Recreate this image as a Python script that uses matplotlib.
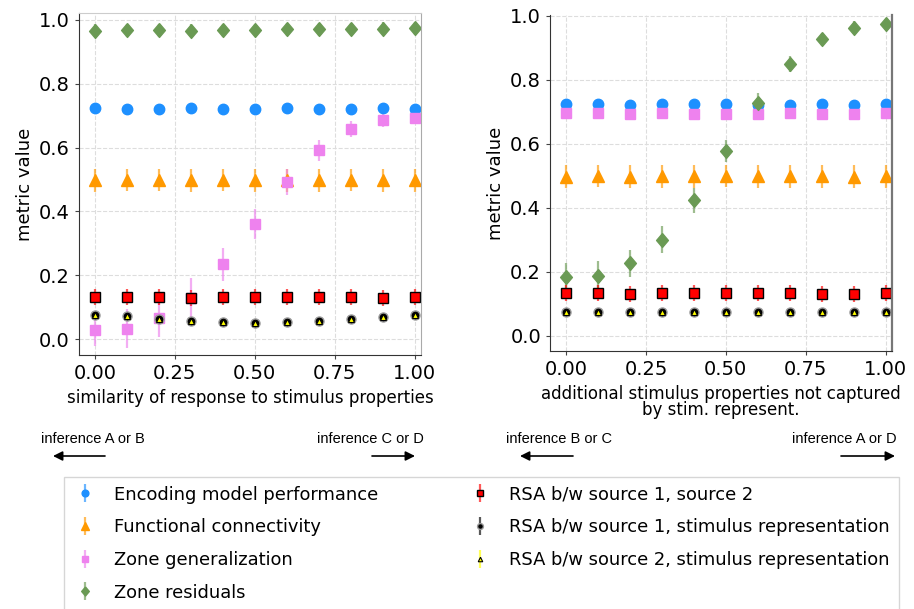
import numpy as np
import matplotlib
matplotlib.use("Agg")
import matplotlib.pyplot as plt
from matplotlib.colors import to_rgba
from matplotlib.patches import FancyArrowPatch

plt.rcParams['font.family'] = ['DejaVu Sans']

x = np.round(np.arange(0, 1.01, 0.1), 1)

# panel A: similarity of response to stimulus properties
enc_a = [0.723, 0.722, 0.722, 0.723, 0.722, 0.722, 0.723, 0.722, 0.722, 0.723, 0.722]
fc_a = [0.497, 0.498, 0.498, 0.497, 0.498, 0.497, 0.497, 0.497, 0.498, 0.497, 0.497]
zgen_a = [0.029, 0.033, 0.066, 0.13, 0.234, 0.362, 0.492, 0.591, 0.657, 0.686, 0.694]
zgen_a_err = [0.05, 0.06, 0.06, 0.06, 0.052, 0.047, 0.04, 0.033, 0.025, 0.02, 0.015]
zres_a = [0.967, 0.968, 0.968, 0.967, 0.968, 0.969, 0.971, 0.971, 0.972, 0.973, 0.974]
rsa12_a = [0.131, 0.131, 0.131, 0.130, 0.131, 0.131, 0.131, 0.131, 0.131, 0.130, 0.131]
rsa1s_a = [0.076, 0.072, 0.064, 0.058, 0.053, 0.050, 0.053, 0.058, 0.064, 0.070, 0.075]
rsa2s_a = [0.075, 0.071, 0.063, 0.057, 0.052, 0.049, 0.052, 0.057, 0.063, 0.069, 0.074]

# panel B: additional stimulus properties not captured
enc_b = [0.723, 0.723, 0.722, 0.723, 0.723, 0.723, 0.722, 0.722, 0.723, 0.722, 0.723]
fc_b = [0.497, 0.499, 0.497, 0.498, 0.498, 0.499, 0.498, 0.498, 0.498, 0.497, 0.498]
zgen_b = [0.695, 0.695, 0.694, 0.695, 0.694, 0.694, 0.694, 0.695, 0.694, 0.694, 0.695]
zres_b = [0.182, 0.187, 0.226, 0.300, 0.423, 0.577, 0.728, 0.849, 0.926, 0.963, 0.975]
zres_b_err = [0.045, 0.045, 0.043, 0.042, 0.04, 0.035, 0.03, 0.025, 0.02, 0.02, 0.015]
rsa12_b = [0.132, 0.133, 0.131, 0.132, 0.132, 0.132, 0.132, 0.133, 0.131, 0.131, 0.132]
rsa1s_b = [0.075, 0.075, 0.075, 0.075, 0.075, 0.075, 0.075, 0.075, 0.075, 0.075, 0.075]
rsa2s_b = [0.074, 0.074, 0.074, 0.074, 0.074, 0.074, 0.074, 0.074, 0.074, 0.074, 0.074]

labels = ['Encoding model performance', 'Functional connectivity',
          'Zone generalization', 'Zone residuals',
          'RSA b/w source 1, source 2',
          'RSA b/w source 1, stimulus representation',
          'RSA b/w source 2, stimulus representation']

# slightly tall diamond
diamond = [(0, 1), (0.85, 0), (0, -1), (-0.85, 0), (0, 1)]

styles = [
    dict(fmt='o', color='#1e90ff', ms=7.5, mec='#1e90ff'),
    dict(fmt='^', color='#ff9900', ms=8.5, mec='#ff9900'),
    dict(fmt='s', color='#ee82ee', ms=7.5, mec='#ee82ee'),
    dict(fmt='none', marker=diamond, color='#6a9a54', ms=10, mec='#6a9a54'),
    dict(fmt='s', color='#ff0000', ms=6.5, mec='black', mew=1.0),
    dict(fmt='o', color='black', ms=6.5, mec='#999999', mew=1.0),
    dict(fmt='^', color='#ffff00', ms=5, mec='black', mew=0.8),
]


def draw(ax, series, errs, ylim):
    for s, e, lab, st in zip(series, errs, labels, styles):
        st = dict(st)
        col = st.pop('color')
        fmt = st.pop('fmt')
        if fmt == 'none':
            fmt = ''
            st['linestyle'] = 'none'
        ax.errorbar(x, s, yerr=e, fmt=fmt, color=col, ecolor=to_rgba(col, 0.65),
                    elinewidth=1.6, capsize=0, label=lab, **st)
    ax.set_xlim(-0.05, 1.02)
    ax.set_ylim(*ylim)
    ax.set_xticks([0, 0.25, 0.5, 0.75, 1.0])
    ax.set_xticklabels(['0.00', '0.25', '0.50', '0.75', '1.00'])
    ax.set_yticks([0, 0.2, 0.4, 0.6, 0.8, 1.0])
    ax.tick_params(labelsize=14, length=3, color='#444444')
    ax.grid(True, linestyle='--', color='#dddddd', linewidth=0.8)
    ax.set_axisbelow(True)
    for side in ['left', 'bottom']:
        ax.spines[side].set_color('#333333')
    ax.spines['top'].set_color('#cccccc')
    ax.set_ylabel('metric value', fontsize=13)


fig = plt.figure(figsize=(9.14, 6.09), dpi=100)
ax1 = fig.add_axes([0.0864, 0.4171, 0.3742, 0.5616])
ax2 = fig.add_axes([0.6018, 0.4236, 0.3742, 0.5517])

draw(ax1,
     [enc_a, fc_a, zgen_a, zres_a, rsa12_a, rsa1s_a, rsa2s_a],
     [0.015, 0.035, zgen_a_err, 0.02, 0.025, 0.01, 0.01],
     (-0.05, 1.022))
ax1.spines['right'].set_color('#aaaaaa')
ax1.set_xlabel('similarity of response to stimulus properties', fontsize=12)

draw(ax2,
     [enc_b, fc_b, zgen_b, zres_b, rsa12_b, rsa1s_b, rsa2s_b],
     [0.015, 0.035, 0.015, zres_b_err, 0.025, 0.01, 0.01],
     (-0.048, 1.002))
ax2.spines['right'].set_color('#777777')
ax2.spines['right'].set_linewidth(1.6)
ax2.spines['top'].set_visible(False)
ax2.set_xlabel('additional stimulus properties not captured\nby stim. represent.',
               fontsize=12, linespacing=0.9)

# inference annotations under each panel
notes = [(41, 'inference A or B', 105, 53),
         (317, 'inference C or D', 372, 415),
         (506, 'inference B or C', 573, 520),
         (792, 'inference A or D', 841, 895)]
for tx, txt, x0, x1 in notes:
    fig.text(tx / 914, 1 - 439 / 609, txt, fontsize=10.5, va='center', ha='left',
             family=['Liberation Sans', 'DejaVu Sans'])
    fig.add_artist(FancyArrowPatch(
        (x0 / 914, 1 - 456 / 609), (x1 / 914, 1 - 456 / 609),
        transform=fig.transFigure, arrowstyle='-|>', mutation_scale=14,
        color='black', lw=1.2, shrinkA=0, shrinkB=0))

handles, labs = ax1.get_legend_handles_labels()
leg = fig.legend(handles, labs, loc='upper left', ncol=2,
                 bbox_to_anchor=(0.06, 0.232), fontsize=12.9,
                 frameon=True, fancybox=False, edgecolor='#cccccc',
                 columnspacing=5.0, handletextpad=0.9, labelspacing=0.82,
                 borderpad=0.5, handlelength=1.4, markerscale=0.65)

fig.savefig('out.png', dpi=100)
